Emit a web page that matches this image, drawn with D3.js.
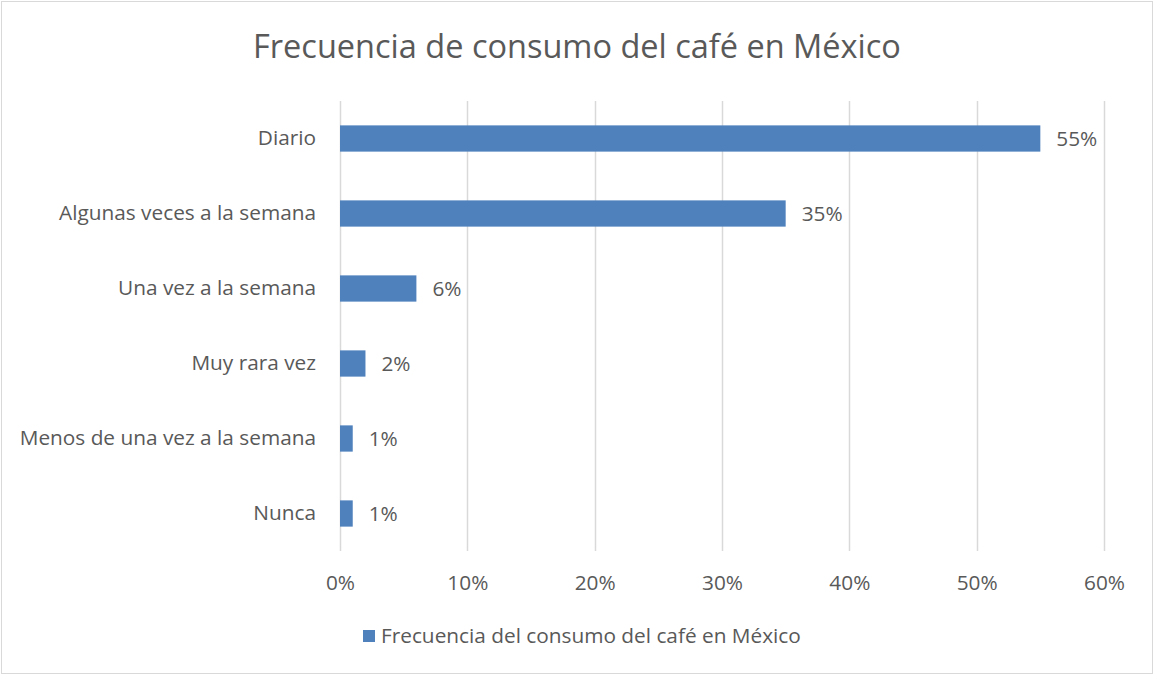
<!DOCTYPE html>
<html>
<head>
<meta charset="utf-8">
<script src="https://cdn.jsdelivr.net/npm/d3@7"></script>
<style>
  html, body { margin: 0; padding: 0; background: #fff; }
  svg text { font-family: "Open Sans", "Liberation Sans", sans-serif; fill: #595959; }
</style>
</head>
<body>
<svg id="chart" width="1154" height="675"></svg>
<script>
// Categories (top to bottom) and their share of respondents
const categories = [
  "Diario",
  "Algunas veces a la semana",
  "Una vez a la semana",
  "Muy rara vez",
  "Menos de una vez a la semana",
  "Nunca"
];
const values = [0.55, 0.35, 0.06, 0.02, 0.01, 0.01];
const tickValues = [0, 0.1, 0.2, 0.3, 0.4, 0.5, 0.6];
const chartTitle = "Frecuencia de consumo del café en México";
const seriesName = "Frecuencia del consumo del café en México";

const W = 1154, H = 675;
const margin = { top: 101, right: 50, bottom: 124, left: 340 };
const barColor = "#4f81bd";
const labelSize = 20.8;

const svg = d3.select("#chart");

// outer chart border
svg.append("rect")
  .attr("x", 1.5).attr("y", 1.5)
  .attr("width", W - 3).attr("height", H - 3)
  .attr("fill", "#fff").attr("stroke", "#d9d9d9").attr("stroke-width", 1);

const x = d3.scaleLinear().domain([0, 0.6]).range([margin.left, W - margin.right]);
const y = d3.scaleBand().domain(categories).range([margin.top, H - margin.bottom]).paddingInner(0.65).paddingOuter(0.325);

// vertical gridlines
svg.append("g").selectAll("line").data(tickValues).join("line")
  .attr("x1", d => Math.round(x(d)) + 0.5).attr("x2", d => Math.round(x(d)) + 0.5)
  .attr("y1", margin.top).attr("y2", H - margin.bottom)
  .attr("stroke", "#d9d9d9").attr("stroke-width", 1.5);

// x axis tick labels
const xAxis = d3.axisBottom(x).tickValues(tickValues).tickFormat(d3.format(".0%")).tickSize(0).tickPadding(0);
const gx = svg.append("g").attr("transform", `translate(0, ${H - margin.bottom + 24})`).call(xAxis);
gx.select(".domain").remove();
gx.selectAll("text").attr("font-size", labelSize).attr("dy", "0.71em").style("fill", "#595959")
  .style("font-family", "\"Open Sans\", sans-serif");

// category labels
const yAxis = d3.axisLeft(y).tickSize(0).tickPadding(24);
const gy = svg.append("g").attr("transform", `translate(${margin.left}, 0)`).call(yAxis);
gy.select(".domain").remove();
gy.selectAll("text").attr("font-size", labelSize).style("fill", "#595959")
  .style("font-family", "\"Open Sans\", sans-serif");

// bars
svg.append("g").selectAll("rect").data(categories).join("rect")
  .attr("x", x(0))
  .attr("y", d => y(d))
  .attr("width", (d, i) => x(values[i]) - x(0))
  .attr("height", y.bandwidth())
  .attr("fill", barColor);

// value labels
svg.append("g").selectAll("text").data(categories).join("text")
  .attr("x", (d, i) => x(values[i]) + 16)
  .attr("y", d => y(d) + y.bandwidth() / 2)
  .attr("dy", "0.35em")
  .attr("font-size", labelSize)
  .text((d, i) => d3.format(".0%")(values[i]));

// title
svg.append("text")
  .attr("x", W / 2).attr("y", 58)
  .attr("text-anchor", "middle")
  .attr("font-size", 32.5)
  .text(chartTitle);

// legend
const lg = svg.append("g").attr("transform", "translate(363, 630)");
lg.append("rect").attr("width", 12).attr("height", 12).attr("fill", barColor);
lg.append("text").attr("x", 18).attr("y", 6).attr("dy", "0.35em").attr("font-size", labelSize).text(seriesName);
</script>
</body>
</html>
